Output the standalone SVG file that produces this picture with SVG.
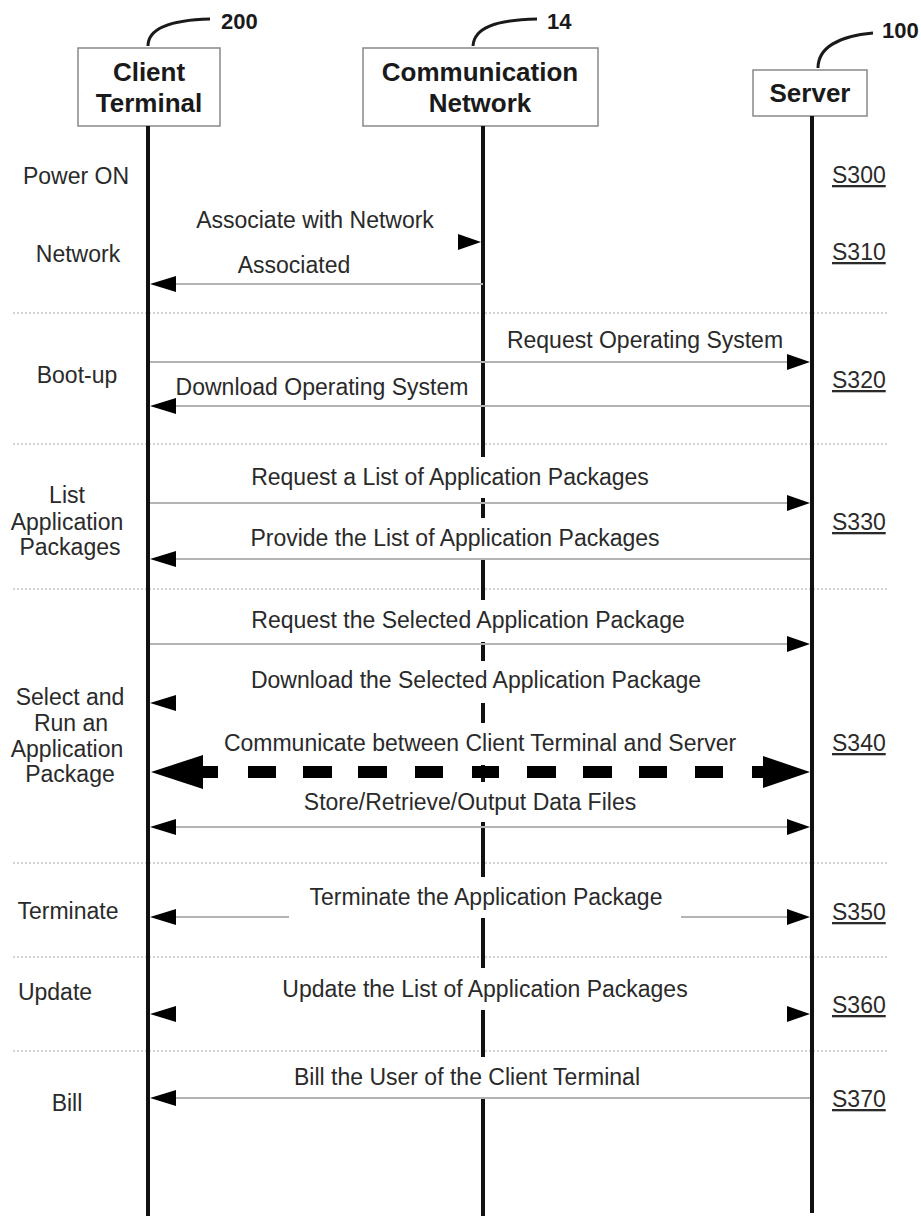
<svg xmlns="http://www.w3.org/2000/svg" xmlns:xlink="http://www.w3.org/1999/xlink" width="921" height="1216" viewBox="0 0 921 1216">
<style>
.box{fill:#fff;stroke:#888;stroke-width:1.5}
.hd{font-family:"Liberation Sans",Arial,sans-serif;font-weight:bold;font-size:26px;fill:#1a1a1a;text-anchor:middle}
.ref{font-family:"Liberation Sans",Arial,sans-serif;font-weight:bold;font-size:22px;fill:#1a1a1a}
.lead{fill:none;stroke:#1a1a1a;stroke-width:3}
.life{stroke:#111;stroke-width:4;fill:none}
.t{font-family:"Liberation Sans",Arial,sans-serif;font-size:23px;fill:#2a2a2a;text-anchor:middle}
.s{font-family:"Liberation Sans",Arial,sans-serif;font-size:23px;fill:#2a2a2a;text-decoration:underline}
.msg{stroke:#b4b4b4;stroke-width:2;fill:none}
.sep{stroke:#aaa;stroke-width:1.2;stroke-dasharray:2 2;fill:none}
.thick{stroke:#000;stroke-width:12;fill:none}
.ah{fill:#000}
</style>
<defs>
<path id="ahL" class="ah" d="M0 0 L26 -8 L26 8 Z"/>
<path id="ahR" class="ah" d="M0 0 L-23 -8 L-23 8 Z"/>
</defs>
<rect width="921" height="1216" fill="#fff"/>

<g id="separators">
<path class="sep" d="M13 313 H888 M13 444 H888 M13 589 H888 M13 863 H888 M13 957 H888 M13 1051 H888"/>
</g>

<g id="client-terminal">
<path class="lead" d="M148 46 C148 28 170 20 210 19"/>
<text class="ref" x="221" y="29">200</text>
<rect class="box" x="78" y="48" width="142" height="78"/>
<text class="hd" x="149" y="81">Client</text>
<text class="hd" x="149" y="112">Terminal</text>
<line class="life" x1="148" y1="126" x2="148" y2="1216"/>
</g>

<g id="communication-network">
<path class="lead" d="M473 46 C474 28 495 20 537 19"/>
<text class="ref" x="547" y="29">14</text>
<rect class="box" x="363" y="48" width="235" height="78"/>
<text class="hd" x="480" y="81">Communication</text>
<text class="hd" x="480" y="112">Network</text>
<path class="life" d="M483 126 V457 M483 498 V518 M483 560 V600 M483 642 V661 M483 703 V723 M483 765 V782 M483 822 V877 M483 918 V968 M483 1010 V1057 M483 1098 V1216"/>
</g>

<g id="server">
<path class="lead" d="M818 68 C818 48 838 36 873 33"/>
<text class="ref" x="882" y="38">100</text>
<rect class="box" x="753" y="70" width="114" height="46"/>
<text class="hd" x="810" y="102">Server</text>
<line class="life" x1="812" y1="116" x2="812" y2="1213"/>
</g>

<g id="step-labels">
<text class="t" x="76" y="184">Power ON</text>
<text class="t" x="78" y="262">Network</text>
<text class="t" x="77" y="383">Boot-up</text>
<text class="t" x="67" y="503">List</text>
<text class="t" x="67" y="530">Application</text>
<text class="t" x="70" y="555">Packages</text>
<text class="t" x="70" y="705">Select and</text>
<text class="t" x="71" y="731">Run an</text>
<text class="t" x="67" y="757">Application</text>
<text class="t" x="70" y="782">Package</text>
<text class="t" x="68" y="919">Terminate</text>
<text class="t" x="55" y="1000">Update</text>
<text class="t" x="67" y="1111">Bill</text>
</g>

<g id="step-numbers">
<text class="s" x="832" y="183">S300</text>
<text class="s" x="832" y="260">S310</text>
<text class="s" x="832" y="388">S320</text>
<text class="s" x="832" y="530">S330</text>
<text class="s" x="832" y="751">S340</text>
<text class="s" x="832" y="920">S350</text>
<text class="s" x="832" y="1013">S360</text>
<text class="s" x="832" y="1107">S370</text>
</g>

<g id="connectors">
<!-- Associate with Network -->
<use xlink:href="#ahR" x="481" y="242"/>
<!-- Associated -->
<line class="msg" x1="483" y1="284" x2="170" y2="284"/>
<use xlink:href="#ahL" x="150" y="284"/>
<!-- Request Operating System -->
<line class="msg" x1="150" y1="362" x2="790" y2="362"/>
<use xlink:href="#ahR" x="810" y="362"/>
<!-- Download Operating System -->
<line class="msg" x1="810" y1="406" x2="170" y2="406"/>
<use xlink:href="#ahL" x="150" y="406"/>
<!-- Request a List -->
<line class="msg" x1="150" y1="503" x2="790" y2="503"/>
<use xlink:href="#ahR" x="810" y="503"/>
<!-- Provide the List -->
<line class="msg" x1="810" y1="559" x2="170" y2="559"/>
<use xlink:href="#ahL" x="150" y="559"/>
<!-- Request the Selected -->
<line class="msg" x1="150" y1="644" x2="790" y2="644"/>
<use xlink:href="#ahR" x="810" y="644"/>
<!-- Download the Selected -->
<use xlink:href="#ahL" x="150" y="703"/>
<!-- Communicate (thick dashed, double) -->
<path class="thick" d="M195 772 H218 M248 772 H276 M303 772 H332 M358 772 H387 M415 772 H443 M472 772 H499 M527 772 H556 M583 772 H612 M639 772 H667 M695 772 H723 M752 772 H770"/>
<path class="ah" d="M151 772 L203 755 L203 789 Z"/>
<path class="ah" d="M810 772 L763 756 L763 788 Z"/>
<!-- Store/Retrieve/Output -->
<line class="msg" x1="170" y1="827" x2="790" y2="827"/>
<use xlink:href="#ahL" x="150" y="827"/>
<use xlink:href="#ahR" x="810" y="827"/>
<!-- Terminate -->
<line class="msg" x1="170" y1="917" x2="289" y2="917"/>
<line class="msg" x1="681" y1="917" x2="790" y2="917"/>
<use xlink:href="#ahL" x="150" y="917"/>
<use xlink:href="#ahR" x="810" y="917"/>
<!-- Update -->
<use xlink:href="#ahL" x="150" y="1014"/>
<use xlink:href="#ahR" x="810" y="1014"/>
<!-- Bill -->
<line class="msg" x1="810" y1="1098" x2="170" y2="1098"/>
<use xlink:href="#ahL" x="150" y="1098"/>
</g>

<g id="message-labels">
<text class="t" x="315" y="228">Associate with Network</text>
<text class="t" x="294" y="273">Associated</text>
<text class="t" x="645" y="348">Request Operating System</text>
<text class="t" x="322" y="395">Download Operating System</text>
<text class="t" x="450" y="485">Request a List of Application Packages</text>
<text class="t" x="455" y="546">Provide the List of Application Packages</text>
<text class="t" x="468" y="628">Request the Selected Application Package</text>
<text class="t" x="476" y="688">Download the Selected Application Package</text>
<text class="t" x="480" y="751">Communicate between Client Terminal and Server</text>
<text class="t" x="470" y="810">Store/Retrieve/Output Data Files</text>
<text class="t" x="486" y="905">Terminate the Application Package</text>
<text class="t" x="485" y="997">Update the List of Application Packages</text>
<text class="t" x="467" y="1085">Bill the User of the Client Terminal</text>
</g>
</svg>
